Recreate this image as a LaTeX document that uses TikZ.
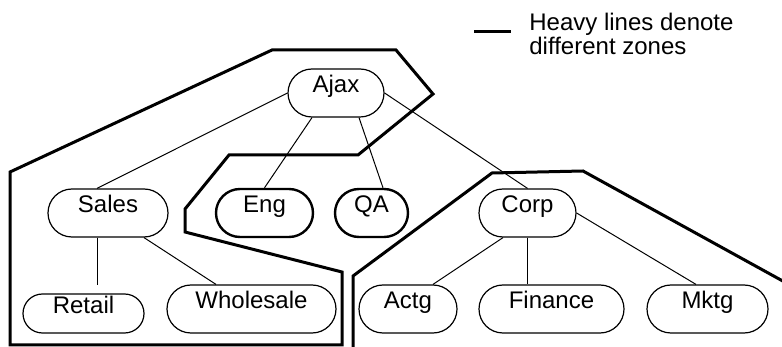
\documentclass[tikz,border=0pt]{standalone}
\usepackage{fontspec}
\setmainfont{Liberation Sans}
\usepackage{tikz}
\usetikzlibrary{shapes.misc, calc}

\tikzset{
  unit/.style={rounded rectangle, draw, line width=0.6pt, minimum height=24pt,
    inner xsep=0pt, text height=6pt, text depth=6pt,
    font=\fontsize{12}{12}\selectfont},
  heavyunit/.style={unit, line width=1.2pt},
  zone/.style={line width=1.5pt, line join=miter},
  link/.style={line width=0.5pt}
}

\begin{document}
\begin{tikzpicture}[x=0.5pt, y=-0.5pt]
\useasboundingbox (0,0) rectangle (782,347);

% Zones
\draw[zone] (10,172) -- (272,50) -- (396,50) -- (433,94) -- (358,155) -- (229,155)
  -- (185,209) -- (185,232) -- (342,272) -- (342,345) -- (10,345) -- cycle;
\draw[zone] (353,350) -- (353,276) -- (492,173) -- (583,171) -- (790,285);

% Units
\node[unit, minimum width=48pt] (ajax) at (336,93) {Ajax};
\node[unit, minimum width=60pt] (sales) at (108,213) {Sales};
\node[heavyunit, minimum width=48.5pt] (eng) at (264.5,213) {Eng};
\node[heavyunit, minimum width=36.5pt] (qa) at (371.5,213) {QA};
\node[unit, minimum width=48.5pt] (corp) at (527.5,213) {Corp};
\node[unit, minimum width=60.5pt, minimum height=19.5pt] (retail) at (83.5,313.5) {Retail};
\node[unit, minimum width=84.5pt] (wholesale) at (251.5,309) {Wholesale};
\node[unit, minimum width=49pt] (actg) at (408,309) {Actg};
\node[unit, minimum width=72.5pt] (finance) at (551.5,309) {Finance};
\node[unit, minimum width=60.5pt] (mktg) at (707.5,309) {Mktg};

% Links
\coordinate (retailtop) at ($(retail.north)+(13.5,-8)$);
\draw[link] (ajax.west) -- ($(sales.north)+(-11,0)$);
\draw[link] ($(ajax.south)+(-24,0)$) -- (eng.north);
\draw[link] ($(ajax.south)+(23,0)$) -- ($(qa.north)+(11.5,0)$);
\draw[link] (ajax.east) -- (corp.north);
\draw[link] ($(sales.south)+(-11,0)$) -- (retailtop);
\draw[link] ($(sales.south)+(36,0)$) -- ($(wholesale.north)+(-35.5,0)$);
\draw[link] ($(corp.south)+(-24.5,0)$) -- ($(actg.north)+(25,0)$);
\draw[link] (corp.south) -- (corp.south |- finance.north);
\draw[link] (corp.east) -- ($(mktg.north)+(-11.5,0)$);

% Legend
\draw[zone] (474,32) -- (511,32);
\node[anchor=west, align=left, inner sep=0pt, font=\fontsize{12}{12}\selectfont]
  (legend) at (529,33.5) {Heavy lines denote\\different zones};

\end{tikzpicture}
\end{document}
